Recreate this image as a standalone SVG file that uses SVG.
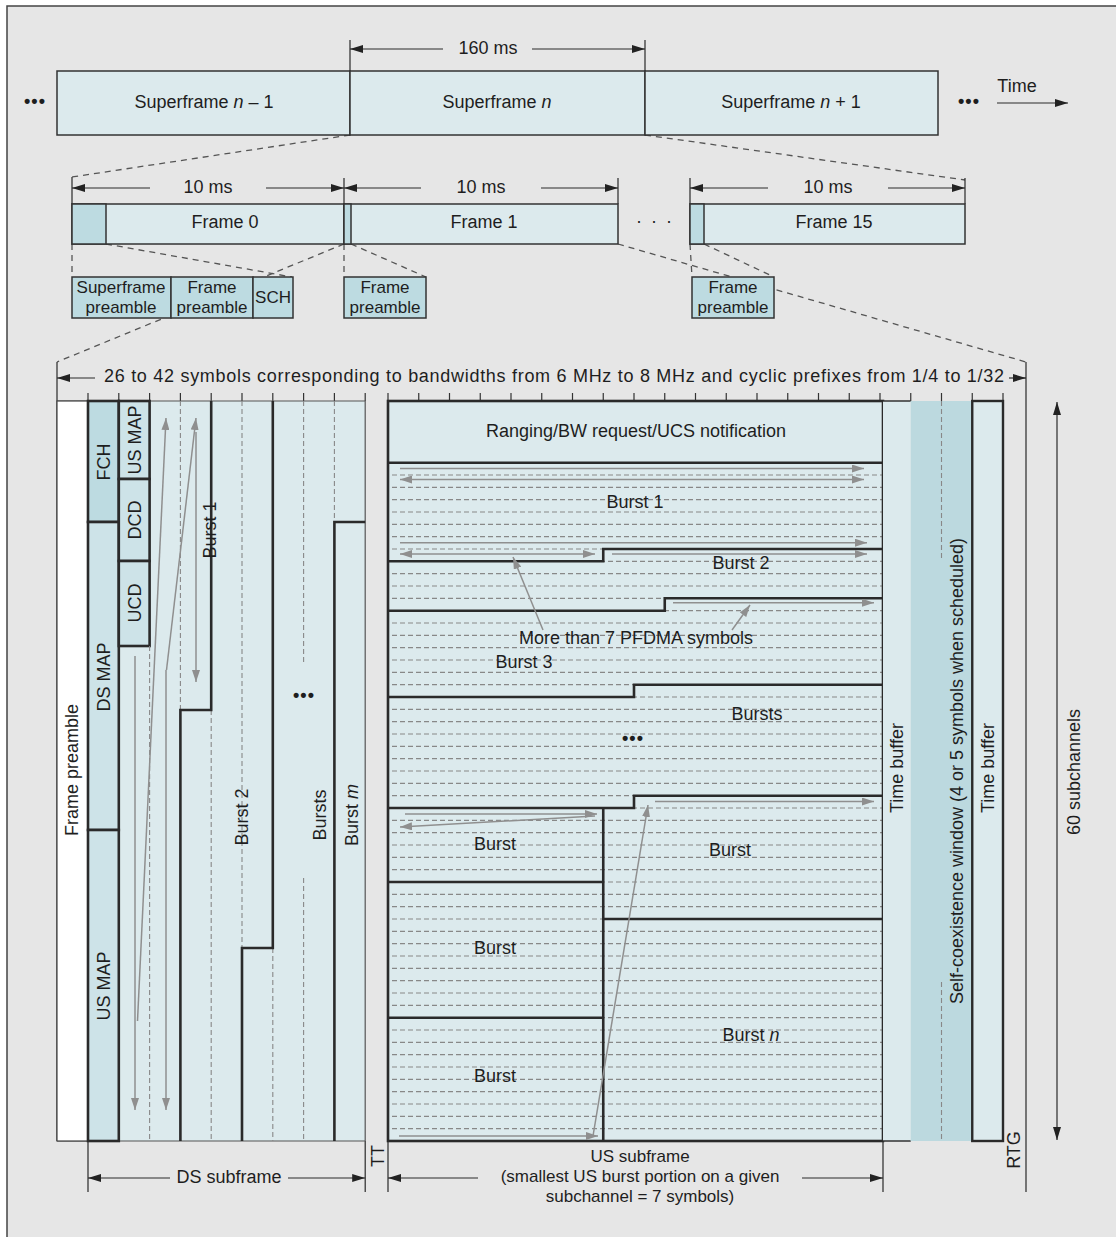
<svg xmlns="http://www.w3.org/2000/svg" width="1116" height="1237" viewBox="0 0 1116 1237">
<style>
.t{font-family:"Liberation Sans",Arial,sans-serif;font-size:18px;fill:#1e1e1e;text-anchor:middle;dominant-baseline:central}
.s{font-size:17px}
.it{font-style:italic}
.lt{fill:#dceaed}
.md{fill:#cde3e8}
.dk{fill:#bddbe1}
.box{stroke:#333;stroke-width:1.5}
.thk{fill:none;stroke:#2a2a2a;stroke-width:2.6}
.dim{fill:none;stroke:#2a2a2a;stroke-width:1.2}
.dsh{fill:none;stroke:#555;stroke-width:1.3;stroke-dasharray:6 5}
.grid{fill:none;stroke:#888;stroke-width:1.1;stroke-dasharray:5 3}
.ga{fill:none;stroke:#8f8f8f;stroke-width:1.5;marker-end:url(#ag)}
.gab{fill:none;stroke:#8f8f8f;stroke-width:1.5;marker-end:url(#ag);marker-start:url(#ag)}
</style>
<defs>
<marker id="ah" viewBox="0 0 13 8" refX="13" refY="4" markerWidth="13" markerHeight="8" orient="auto-start-reverse" markerUnits="userSpaceOnUse"><path d="M0,0 L13,4 L0,8 z" fill="#222"/></marker>
<marker id="ag" viewBox="0 0 12 8" refX="12" refY="4" markerWidth="12" markerHeight="8" orient="auto-start-reverse" markerUnits="userSpaceOnUse"><path d="M0,0 L12,4 L0,8 z" fill="#8f8f8f"/></marker>
</defs>
<rect x="0" y="0" width="1116" height="1237" fill="#ffffff"/>
<rect x="7" y="6" width="1130" height="1250" fill="#e6e6e6" stroke="#444" stroke-width="1.5"/>

<g id="connectors">
  <path class="dim" d="M350 40V71M645 40V71"/>
  <path class="dim" d="M350 49H443" marker-start="url(#ah)"/>
  <path class="dim" d="M532 49H645" marker-end="url(#ah)"/>
  <path class="dim" d="M997 103H1068" stroke-width="1.5" marker-end="url(#ah)"/>
  <path class="dsh" d="M350 135L72 177M645 135L965 180"/>
  <path class="dim" d="M72 177V204M344 178V204M618 178V204M690 178V204M965 178V204"/>
  <path class="dim" d="M72 188H150" marker-start="url(#ah)"/>
  <path class="dim" d="M266 188H344" marker-end="url(#ah)"/>
  <path class="dim" d="M344 188H421" marker-start="url(#ah)"/>
  <path class="dim" d="M541 188H618" marker-end="url(#ah)"/>
  <path class="dim" d="M690 188H768" marker-start="url(#ah)"/>
  <path class="dim" d="M888 188H965" marker-end="url(#ah)"/>
  <path class="dsh" d="M72 244V277M106 244L292 277M344 244V277M351 244L426 277M690 244L692 277M704 244L774 277"/>
  <path class="dsh" d="M344 244L57 362M618 244L1026 362"/>
  <path class="dim" d="M57 362V1141M1026 362V1192"/>
  <path class="dim" d="M57 378H95" marker-start="url(#ah)"/>
  <path class="dim" d="M1009 378H1026" marker-end="url(#ah)"/>
  <path class="dim" d="M1057 402V1140" marker-start="url(#ah)" marker-end="url(#ah)"/>
  <path class="dim" d="M88 1141V1192M365.2 1141V1192M388 1141V1192M883 1141V1192"/>
  <path class="dim" d="M88 1178H170" marker-start="url(#ah)"/>
  <path class="dim" d="M288 1178H365.2" marker-end="url(#ah)"/>
  <path class="dim" d="M388 1178H478" marker-start="url(#ah)"/>
  <path class="dim" d="M802 1178H883" marker-end="url(#ah)"/>
</g>

<g id="superframes">
  <rect class="lt box" x="57" y="71" width="293" height="64"/>
  <rect class="lt box" x="350" y="71" width="295" height="64"/>
  <rect class="lt box" x="645" y="71" width="293" height="64"/>
  <text class="t" x="204" y="102">Superframe <tspan class="it">n</tspan> – 1</text>
  <text class="t" x="497" y="102">Superframe <tspan class="it">n</tspan></text>
  <text class="t" x="791" y="102">Superframe <tspan class="it">n</tspan> + 1</text>
  <text class="t" x="35" y="101" font-weight="bold" letter-spacing="1">•••</text>
  <text class="t" x="969" y="101" font-weight="bold" letter-spacing="1">•••</text>
  <text class="t" x="1017" y="86">Time</text>
  <text class="t" x="488" y="48">160 ms</text>
</g>

<g id="frames">
  <rect class="lt box" x="72" y="204" width="272" height="40"/>
  <rect class="dk box" x="72" y="204" width="34" height="40"/>
  <rect class="lt box" x="344" y="204" width="274" height="40"/>
  <rect class="dk box" x="344" y="204" width="7" height="40"/>
  <rect class="lt box" x="690" y="204" width="275" height="40"/>
  <rect class="dk box" x="690" y="204" width="14" height="40"/>
  <text class="t" x="225" y="222">Frame 0</text>
  <text class="t" x="484" y="222">Frame 1</text>
  <text class="t" x="834" y="222">Frame 15</text>
  <text class="t" x="208" y="187">10 ms</text>
  <text class="t" x="481" y="187">10 ms</text>
  <text class="t" x="828" y="187">10 ms</text>
  <text class="t" x="655" y="221" letter-spacing="2">· · ·</text>
</g>

<g id="preambles">
  <rect class="dk box" x="72" y="277" width="99" height="41"/>
  <rect class="dk box" x="171" y="277" width="82" height="41"/>
  <rect class="dk box" x="253" y="277" width="40" height="41"/>
  <rect class="dk box" x="344" y="277" width="82" height="41"/>
  <rect class="dk box" x="692" y="277" width="82" height="41"/>
  <text class="t s" x="121" y="287">Superframe</text>
  <text class="t s" x="121" y="307.5">preamble</text>
  <text class="t s" x="212" y="287">Frame</text>
  <text class="t s" x="212" y="307.5">preamble</text>
  <text class="t s" x="273" y="297">SCH</text>
  <text class="t s" x="385" y="287">Frame</text>
  <text class="t s" x="385" y="307.5">preamble</text>
  <text class="t s" x="733" y="287">Frame</text>
  <text class="t s" x="733" y="307.5">preamble</text>
</g>

<g id="symbol-scale">
  <text class="t" x="554" y="376" textLength="900" lengthAdjust="spacing">26 to 42 symbols corresponding to bandwidths from 6 MHz to 8 MHz and cyclic prefixes from 1/4 to 1/32</text>
  <path fill="none" stroke="#333" stroke-width="1.2" d="M88 393V401M118.8 393V401M149.6 393V401M180.4 393V401M211.2 393V401M242 393V401M272.8 393V401M303.6 393V401M334.4 393V401M365.2 393V401M388 393V401M418.75 393V401M449.5 393V401M480.25 393V401M511 393V401M541.75 393V401M572.5 393V401M603.25 393V401M634 393V401M664.75 393V401M695.5 393V401M726.25 393V401M757 393V401M787.75 393V401M818.5 393V401M849.25 393V401M880 393V401M910.75 393V401M941.5 393V401M972.25 393V401M1003 393V401"/>
</g>

<g id="ds-subframe">
  <rect class="lt" x="118.8" y="401" width="246.4" height="740"/>
  <path fill="none" stroke="#555" stroke-width="1.2" d="M57 401H365.2M57 1141H365.2M365.2 401V1141"/>
  <rect x="57" y="401" width="31" height="740" fill="#ffffff" stroke="#444" stroke-width="1.2"/>
  <rect class="dk" x="88" y="401" width="30.8" height="121" stroke="#2a2a2a" stroke-width="2.6"/>
  <rect class="md" x="88" y="522" width="30.8" height="308" stroke="#2a2a2a" stroke-width="2.6"/>
  <rect class="md" x="88" y="830" width="30.8" height="311" stroke="#2a2a2a" stroke-width="2.6"/>
  <rect class="md" x="118.8" y="401" width="30.8" height="78" stroke="#2a2a2a" stroke-width="2.6"/>
  <rect class="md" x="118.8" y="479" width="30.8" height="82" stroke="#2a2a2a" stroke-width="2.6"/>
  <rect class="md" x="118.8" y="561" width="30.8" height="85" stroke="#2a2a2a" stroke-width="2.6"/>
  <path class="grid" d="M149.6 646V1141M180.4 401V710M211.2 710V1141M242 401V948M272.8 948V1141M303.6 401V663M303.6 878V1141M334.4 401V522"/>
  <path class="thk" d="M211.2 401V710H180.4V1141"/>
  <path class="thk" d="M272.8 401V948H242V1141"/>
  <path class="thk" d="M365.2 522H334.4V1141"/>
  <path class="ga" d="M135 656V1110"/>
  <path class="ga" d="M137.5 1021L166 418"/>
  <path class="ga" d="M166 670V1110"/>
  <path class="ga" d="M166.5 670L196 418"/>
  <path class="ga" d="M196 432V682"/>
  <text class="t" transform="translate(72 770) rotate(-90)">Frame preamble</text>
  <text class="t" transform="translate(104 462) rotate(-90)">FCH</text>
  <text class="t" transform="translate(104 677) rotate(-90)">DS MAP</text>
  <text class="t" transform="translate(104 986) rotate(-90)">US MAP</text>
  <text class="t" transform="translate(135 440) rotate(-90)">US MAP</text>
  <text class="t" transform="translate(135 520) rotate(-90)">DCD</text>
  <text class="t" transform="translate(135 603) rotate(-90)">UCD</text>
  <text class="t" transform="translate(210 530) rotate(-90)">Burst 1</text>
  <text class="t" transform="translate(242 817) rotate(-90)">Burst 2</text>
  <text class="t" transform="translate(320 815) rotate(-90)">Bursts</text>
  <text class="t" transform="translate(352 815) rotate(-90)">Burst <tspan class="it">m</tspan></text>
  <text class="t" x="304" y="695" font-weight="bold" letter-spacing="1">•••</text>
  <text class="t" x="229" y="1177">DS subframe</text>
  <text class="t" transform="translate(378 1156) rotate(-90)">TT</text>
</g>

<g id="us-subframe">
  <rect class="lt" x="388" y="401" width="495" height="740"/>
  <path class="grid" d="M392 475H883M392 487.33H883M392 499.67H883M392 512H883M392 524.33H883M392 536.67H883M392 549H883M392 561.33H883M392 573.67H883M392 586H883M392 598.33H883M392 610.67H883M392 623H883M392 635.33H883M392 647.67H883M392 660H883M392 672.33H883M392 684.67H883M392 697H883M392 709.33H883M392 721.67H883M392 734H883M392 746.33H883M392 758.67H883M392 771H883M392 783.33H883M392 795.67H883M392 808H883M392 820.33H883M392 832.67H883M392 845H883M392 857.33H883M392 869.67H883M392 882H883M392 894.33H883M392 906.67H883M392 919H883M392 931.33H883M392 943.67H883M392 956H883M392 968.33H883M392 980.67H883M392 993H883M392 1005.33H883M392 1017.67H883M392 1030H883M392 1042.33H883M392 1054.67H883M392 1067H883M392 1079.33H883M392 1091.67H883M392 1104H883M392 1116.33H883M392 1128.67H883"/>
  <path class="thk" d="M388 462.7H883"/>
  <path class="thk" d="M388 561.3H603.25V549H883"/>
  <path class="thk" d="M388 610.7H664.75V598.3H883"/>
  <path class="thk" d="M388 697H634V684.7H883"/>
  <path class="thk" d="M388 808H634V795.7H883"/>
  <path class="thk" d="M603.25 808V1141M388 882H603.25M388 1017.7H603.25M603.25 919H883"/>
  <rect x="388" y="401" width="495" height="740" fill="none" stroke="#2a2a2a" stroke-width="2.6"/>
  <path class="ga" d="M400 468.5H864"/>
  <path class="gab" d="M400 479.5H864"/>
  <path class="ga" d="M400 542.7H867"/>
  <path class="gab" d="M400 554H595"/>
  <path class="ga" d="M612 554H867"/>
  <path class="ga" d="M673 602.7H874"/>
  <path class="ga" d="M543 630L513 557"/>
  <path class="ga" d="M732 630L750 605"/>
  <path class="ga" d="M405 814H597"/>
  <path class="ga" d="M595 816L400 827"/>
  <path class="ga" d="M399 1136H598"/>
  <path class="ga" d="M593 1136L648 805"/>
  <path class="ga" d="M655 801.5H874"/>
  <text class="t" x="636" y="431">Ranging/BW request/UCS notification</text>
  <text class="t" x="635" y="502">Burst 1</text>
  <text class="t" x="741" y="563">Burst 2</text>
  <text class="t" x="636" y="638">More than 7 PFDMA symbols</text>
  <text class="t" x="524" y="662">Burst 3</text>
  <text class="t" x="757" y="714">Bursts</text>
  <text class="t" x="633" y="738" font-weight="bold" letter-spacing="1">•••</text>
  <text class="t" x="495" y="844">Burst</text>
  <text class="t" x="730" y="850">Burst</text>
  <text class="t" x="495" y="948">Burst</text>
  <text class="t" x="751" y="1035">Burst <tspan class="it">n</tspan></text>
  <text class="t" x="495" y="1076">Burst</text>
  <text class="t s" x="640" y="1156">US subframe</text>
  <text class="t s" x="640" y="1176">(smallest US burst portion on a given</text>
  <text class="t s" x="640" y="1196">subchannel = 7 symbols)</text>
</g>

<g id="coexistence">
  <rect class="lt" x="883" y="401" width="27.75" height="740"/>
  <path fill="none" stroke="#333" stroke-width="1.3" d="M883 401H910.75M883 1141H910.75"/>
  <rect x="910.75" y="401" width="61.5" height="740" fill="#bcd9df"/>
  <path class="grid" d="M941.5 401V560M941.5 982V1141"/>
  <rect class="lt" x="972.25" y="401" width="30.75" height="740" stroke="#2a2a2a" stroke-width="2.4"/>
  <text class="t" transform="translate(897 768) rotate(-90)">Time buffer</text>
  <text class="t" transform="translate(957 771) rotate(-90)">Self-coexistence window (4 or 5 symbols when scheduled)</text>
  <text class="t" transform="translate(988 768) rotate(-90)">Time buffer</text>
  <text class="t" transform="translate(1014 1150) rotate(-90)">RTG</text>
  <text class="t" transform="translate(1074 772) rotate(-90)">60 subchannels</text>
</g>
</svg>
